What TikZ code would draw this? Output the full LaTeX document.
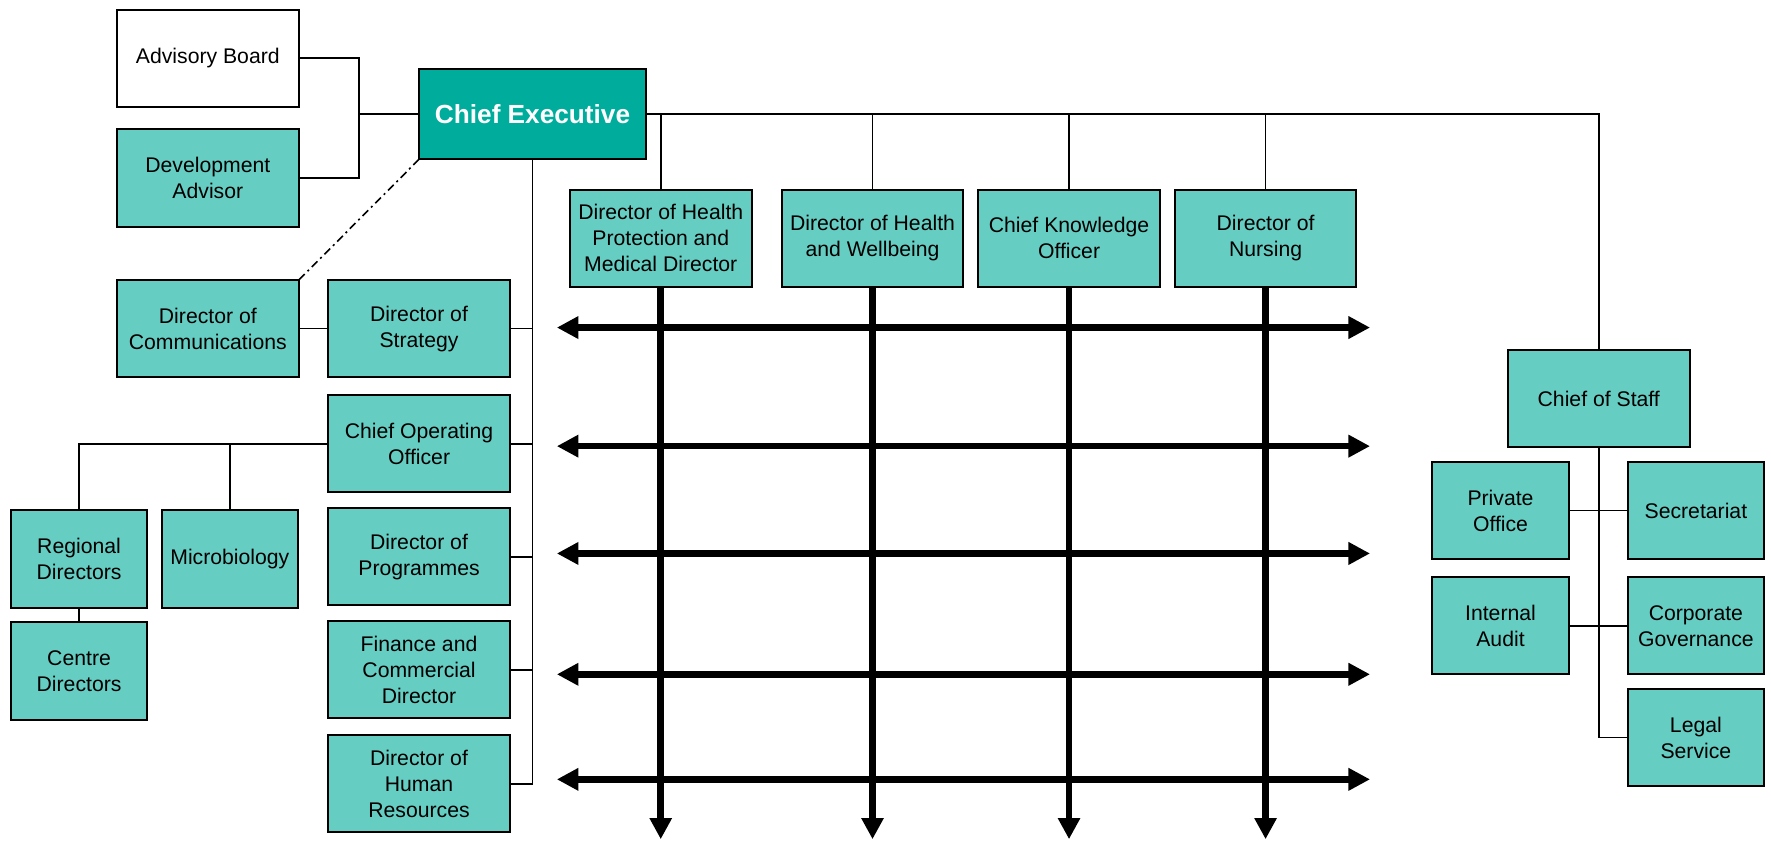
\documentclass[tikz,border=0pt]{standalone}
\usepackage{fontspec}
\setmainfont{Liberation Sans}
\usepackage{tikz}
\usetikzlibrary{arrows.meta,positioning}
\definecolor{myteal}{RGB}{102,205,194}
\definecolor{mydarkteal}{RGB}{0,173,156}

\begin{document}
\begin{tikzpicture}[
  x=0.5647pt, y=-0.5647pt,
  line width=0.8pt,
  myrect/.style={
    draw,
    line width=1pt,
    fill=myteal,
    minimum width=90.9pt,
    minimum height=48.6pt,
    inner sep=1pt,
    outer sep=0pt,
    align=center,
    font=\fontsize{10.6}{13}\selectfont
    },
  mysmall/.style={myrect, minimum width=68.3pt},
  mychief/.style={myrect, fill=mydarkteal, text=white,
    minimum width=113.5pt, minimum height=45.2pt,
    font=\fontsize{13.1}{15}\selectfont\bfseries},
  mythick/.style={line width=3.3pt},
  myvarrow/.style={mythick, -{Triangle[length=10.6pt,width=10.6pt]}},
  myharrow/.style={mythick, {Triangle[length=10.8pt,width=10.7pt]}-{Triangle[length=10.8pt,width=10.7pt]}}
]
\useasboundingbox (0,0) rectangle (1568,744);

% top left
\node [myrect, fill=white] (adv) at (184,51.5) {Advisory Board};
\node [myrect] (dev) at (184,157.5) {Development\\Advisor};
\node [mychief] (ceo) at (471.5,101) {Chief Executive};
\coordinate (jadv) at (318,101);

% directors across the top
\node [myrect] (dhp) at (585,211) {Director of Health\\Protection and\\Medical Director};
\node [myrect] (dhw) at (772.5,211) {Director of Health\\and Wellbeing};
\node [myrect] (cko) at (946.5,211) {Chief Knowledge\\Officer};
\node [myrect] (dn) at (1120.5,211) {Director of\\Nursing};

% left column
\node [myrect] (comm) at (184,291) {Director of\\Communications};
\node [myrect] (strat) at (371,291) {Director of\\Strategy};
\node [myrect] (coo) at (371,393) {Chief Operating\\Officer};
\node [myrect] (prog) at (371,493) {Director of\\Programmes};
\node [myrect] (fin) at (371,593) {Finance and\\Commercial\\Director};
\node [myrect] (hr) at (371,694) {Director of\\Human\\Resources};

\node [mysmall] (reg) at (70,495) {Regional\\Directors};
\node [mysmall] (micro) at (203.5,495) {Microbiology};
\node [mysmall] (centre) at (70,594) {Centre\\Directors};

% chief of staff
\node [myrect] (cos) at (1415.5,353) {Chief of Staff};
\node [mysmall] (priv) at (1328.5,452) {Private\\Office};
\node [mysmall] (sec) at (1501.5,452) {Secretariat};
\node [mysmall] (audit) at (1328.5,554) {Internal\\Audit};
\node [mysmall] (corp) at (1501.5,554) {Corporate\\Governance};
\node [mysmall] (legal) at (1501.5,653) {Legal\\Service};

% links
\draw (adv.east) -| (jadv) |- (dev.east);
\draw (jadv) -- (ceo.west);
\draw (ceo.east) -| (cos.north);
\foreach \n in {dhp,dhw,cko,dn}
  \draw (\n.north) -- (\n.north |- ceo.east);
\draw (ceo.south) -- (ceo.south |- hr.east) -- (hr.east);
\foreach \n in {strat,coo,prog,fin}
  \draw (\n.east) -- (\n.east -| ceo.south);
\draw [dash pattern=on 4pt off 2pt on 1pt off 2pt] (ceo.south west) -- (comm.north east);
\draw (comm.east) -- (strat.west);
\draw (coo.west) -| (reg.north);
\draw (micro.north) -- (micro.north |- coo.west);
\draw (reg.south) -- (centre.north);
\draw (cos.south) |- (legal.west);
\draw (priv.east) -- (sec.west);
\draw (audit.east) -- (corp.west);

% matrix arrows
\coordinate (bot) at (0,743);
\foreach \n in {dhp,dhw,cko,dn}
  \draw [myvarrow] (\n.south) -- (\n.south |- bot);
\foreach \y in {290,395,490,597,690}
  \draw [myharrow] (493,\y) -- (1213,\y);

\end{tikzpicture}
\end{document}
